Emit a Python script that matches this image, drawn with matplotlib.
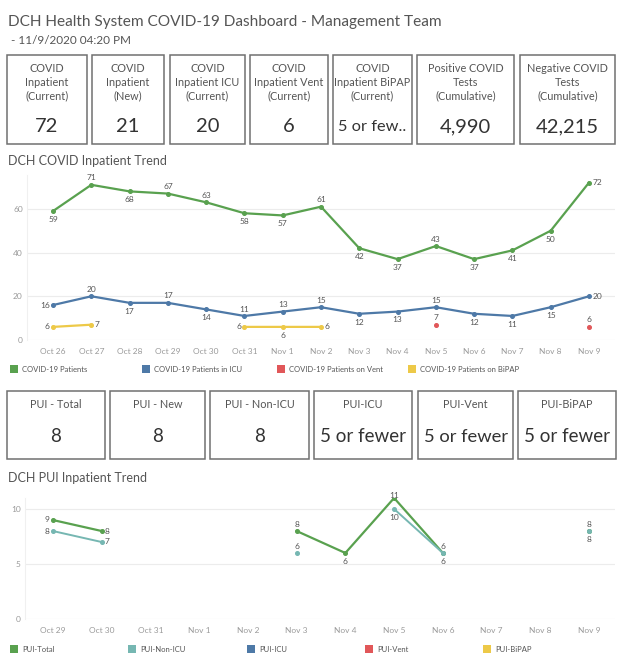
import numpy as np
import matplotlib.pyplot as plt
from matplotlib.patches import Rectangle

nan = np.nan

# ── Data ──────────────────────────────────────────────────────────────────────
kpi_top_labels = [["COVID", "Inpatient", "(Current)"], ["COVID", "Inpatient", "(New)"],
                  ["COVID", "Inpatient ICU", "(Current)"], ["COVID", "Inpatient Vent", "(Current)"],
                  ["COVID", "Inpatient BiPAP", "(Current)"], ["Positive COVID", "Tests", "(Cumulative)"],
                  ["Negative COVID", "Tests", "(Cumulative)"]]
kpi_top_values = ["72", "21", "20", "6", "5 or few..", "4,990", "42,215"]

kpi_pui_labels = [["PUI - Total"], ["PUI - New"], ["PUI - Non-ICU"], ["PUI-ICU"], ["PUI-Vent"], ["PUI-BiPAP"]]
kpi_pui_values = ["8", "8", "8", "5 or fewer", "5 or fewer", "5 or fewer"]

trend_days = ["Oct 26", "Oct 27", "Oct 28", "Oct 29", "Oct 30", "Oct 31", "Nov 1", "Nov 2",
              "Nov 3", "Nov 4", "Nov 5", "Nov 6", "Nov 7", "Nov 8", "Nov 9"]
covid_patients = [59, 71, 68, 67, 63, 58, 57, 61, 42, 37, 43, 37, 41, 50, 72]
covid_icu = [16, 20, 17, 17, 14, 11, 13, 15, 12, 13, 15, 12, 11, 15, 20]
covid_vent = [nan, nan, nan, nan, nan, nan, nan, nan, nan, nan, 7, nan, nan, nan, 6]
covid_bipap = [6, 7, nan, nan, nan, 6, 6, 6, nan, nan, nan, nan, nan, nan, nan]

pui_days = ["Oct 29", "Oct 30", "Oct 31", "Nov 1", "Nov 2", "Nov 3", "Nov 4", "Nov 5",
            "Nov 6", "Nov 7", "Nov 8", "Nov 9"]
pui_total = [9, 8, nan, nan, nan, 8, 6, 11, 6, nan, nan, 8]
pui_non_icu = [8, 7, nan, nan, nan, 6, nan, 10, 6, nan, nan, 8]
pui_icu = [nan] * 12
pui_vent = [nan] * 12
pui_bipap = [nan] * 12

# label placement: a=above b=below l=left r=right c=on point
pos_patients = "babaabbabbabbbr"
pos_icu = "lababaaabbabbbr"
pos_vent = "aaaaaaaaaaaaaaa"
pos_bipap = "lr...lbr......."
pos_pui_total = "lr...abcb..b"
pos_pui_non_icu = "lr...a.ba..a"

GREEN, BLUE, RED, YELLOW, TEAL = "#59a14f", "#4e79a7", "#e15759", "#edc948", "#76b7b2"
TXT, LIGHT = "#555555", "#9a9a9a"

W, H, DPI = 624, 666, 100
plt.rcParams['font.family'] = ['Lato', 'DejaVu Sans']
fig = plt.figure(figsize=(W / DPI, H / DPI), dpi=DPI)
renderer = fig.canvas.get_renderer()


def fx(x): return x / W
def fy(y): return 1 - y / H


def px_axes(x0, y0, x1, y1):
    return fig.add_axes([fx(x0), fy(y1), (x1 - x0) / W, (y1 - y0) / H])


def kpi_row(boxes, labels, values, y0, y1, label_y, value_y, value_size):
    for (x0, x1), lab, val in zip(boxes, labels, values):
        fig.add_artist(Rectangle((fx(x0), fy(y1)), (x1 - x0) / W, (y1 - y0) / H,
                                 transform=fig.transFigure, fill=False,
                                 edgecolor="#707070", lw=1.1))
        xm = (x0 + x1) / 2
        for k, line in enumerate(lab):
            fig.text(fx(xm), fy(label_y + 14 * k), line, ha='center', va='center',
                     fontsize=7.8, color=TXT)
        t = fig.text(fx(xm), fy(value_y), val, ha='center', va='center',
                     fontsize=value_size, color="#333333")
        # shrink text that would not fit in its box
        while t.get_window_extent(renderer).width > (x1 - x0) - 10:
            t.set_fontsize(t.get_fontsize() - 0.25)


OFFS = {'a': (0, 5, 'center', 'center'), 'b': (0, -6, 'center', 'center'),
        'l': (-2.5, 0, 'right', 'center'), 'r': (2.5, 0, 'left', 'center'),
        'c': (0, 1.5, 'center', 'center')}


def series(ax, vals, color, pos, lw=1.6):
    x = np.arange(len(vals))
    ax.plot(x, vals, color=color, lw=lw, marker='o', ms=2.6, zorder=3)
    for i, v in enumerate(vals):
        if np.isnan(v) or pos[i] == '.':
            continue
        dx, dy, ha, va = OFFS[pos[i]]
        ax.annotate(f"{v:.0f}", (i, v), xytext=(dx, dy), textcoords='offset points',
                    ha=ha, va=va, fontsize=6, color=TXT, zorder=4)


def style_axes(ax, days, ylim, yticks, pad_l, pad_r):
    ax.set_xlim(-pad_l, len(days) - 1 + pad_r)
    ax.set_ylim(*ylim)
    ax.set_xticks(range(len(days)))
    ax.set_xticklabels(days)
    ax.set_yticks(yticks)
    ax.tick_params(length=0, labelsize=6, labelcolor=LIGHT)
    ax.tick_params(axis='x', pad=6)
    ax.tick_params(axis='y', pad=3)
    for s in ax.spines.values():
        s.set_visible(False)
    ax.spines['left'].set_visible(True)
    ax.spines['left'].set_color("#f0f0f0")
    ax.grid(axis='y', color="#ececec", lw=0.8)
    ax.set_axisbelow(True)
    ax.patch.set_alpha(0)


def legend_row(items, xs, y):
    for (name, color), x in zip(items, xs):
        fig.add_artist(Rectangle((fx(x), fy(y + 4)), 8 / W, 8 / H, transform=fig.transFigure,
                                 facecolor=color, edgecolor='none'))
        fig.text(fx(x + 12), fy(y), name, ha='left', va='center', fontsize=5.5, color=TXT)


# ── Header ────────────────────────────────────────────────────────────────────
fig.text(fx(8), fy(22), "DCH Health System COVID-19 Dashboard - Management Team",
         ha='left', va='center', fontsize=11.1, color=TXT)
fig.text(fx(8), fy(41), " - 11/9/2020 04:20 PM", ha='left', va='center', fontsize=8.5, color=TXT)

top_boxes = [(7, 87), (92, 164), (170, 245), (250, 328), (333, 412), (417, 514), (520, 615)]
kpi_row(top_boxes, kpi_top_labels, kpi_top_values, 55, 144, 68, 127, 14.5)

# ── COVID inpatient trend ─────────────────────────────────────────────────────
fig.text(fx(8), fy(161), "DCH COVID Inpatient Trend", ha='left', va='center',
         fontsize=9, color=TXT)
ax1 = px_axes(27, 175, 615, 340)
series(ax1, covid_patients, GREEN, pos_patients)
series(ax1, covid_icu, BLUE, pos_icu)
series(ax1, covid_bipap, YELLOW, pos_bipap)
series(ax1, covid_vent, RED, pos_vent)
style_axes(ax1, trend_days, (0, 75.5), [0, 20, 40, 60], 0.68, 0.68)
legend_row([("COVID-19 Patients", GREEN), ("COVID-19 Patients in ICU", BLUE),
            ("COVID-19 Patients on Vent", RED), ("COVID-19 Patients on BiPAP", YELLOW)],
           [10, 142, 277, 408], 369)

# ── PUI boxes ─────────────────────────────────────────────────────────────────
pui_boxes = [(7, 105), (110, 205), (210, 309), (314, 412), (418, 513), (518, 616)]
kpi_row(pui_boxes, kpi_pui_labels, kpi_pui_values, 391, 459, 405, 437, 13.5)

# ── PUI inpatient trend ───────────────────────────────────────────────────────
fig.text(fx(8), fy(478), "DCH PUI Inpatient Trend", ha='left', va='center',
         fontsize=9, color=TXT)
ax2 = px_axes(25, 498, 615, 619)
series(ax2, pui_total, GREEN, pos_pui_total)
series(ax2, pui_non_icu, TEAL, pos_pui_non_icu, lw=1.4)
series(ax2, pui_icu, BLUE, "." * 12)
series(ax2, pui_vent, RED, "." * 12)
series(ax2, pui_bipap, YELLOW, "." * 12)
style_axes(ax2, pui_days, (0, 11), [0, 5, 10], 0.57, 0.53)
legend_row([("PUI-Total", GREEN), ("PUI-Non-ICU", TEAL), ("PUI-ICU", BLUE),
            ("PUI-Vent", RED), ("PUI-BiPAP", YELLOW)],
           [10, 128, 247, 365, 483], 649)

fig.savefig("out.png", dpi=DPI)
